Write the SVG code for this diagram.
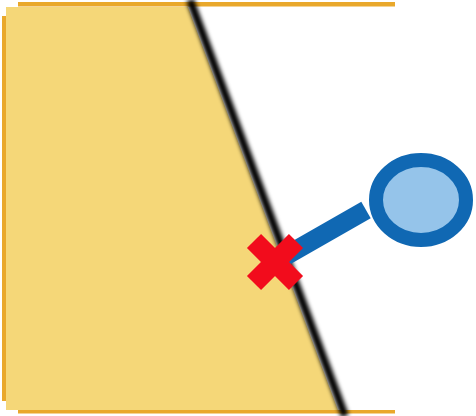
<svg xmlns="http://www.w3.org/2000/svg" width="476" height="416" viewBox="0 0 476 416">
  <defs>
    <style>
      .edge { fill: #e9a82b; }
      .fillarea { fill: #f5d778; }
      .wall { stroke: #000; stroke-width: 8; fill: none; }
      .arm { stroke: #1068b3; stroke-width: 19; stroke-linecap: butt; fill: none; }
      .cross { stroke: #f20c1c; stroke-width: 20; stroke-linecap: butt; }
    </style>
    <filter id="soft" x="-20%" y="-10%" width="140%" height="120%">
      <feGaussianBlur stdDeviation="2"/>
    </filter>
  </defs>
  <rect width="476" height="416" fill="#ffffff"/>
  <g id="region">
    <polygon class="fillarea" points="6,7 188,7 338,410 6,410"/>
    <rect class="edge" x="18" y="2" width="377" height="4.5"/>
    <rect class="edge" x="2" y="16" width="4" height="385"/>
    <rect class="edge" x="18" y="410" width="377" height="3.5"/>
  </g>
  <g id="boundary">
    <line class="wall" x1="190" y1="0" x2="345" y2="416" filter="url(#soft)"/>
  </g>
  <g id="connectors">
    <line class="arm" x1="275" y1="262" x2="366" y2="210"/>
  </g>
  <g id="marker-x">
    <line class="cross" x1="254" y1="241" x2="296" y2="283"/>
    <line class="cross" x1="296" y1="241" x2="254" y2="283"/>
  </g>
  <g id="bulb">
    <ellipse cx="421" cy="200" rx="45" ry="40" fill="#95c4ea" stroke="#1068b3" stroke-width="14"/>
  </g>
</svg>
